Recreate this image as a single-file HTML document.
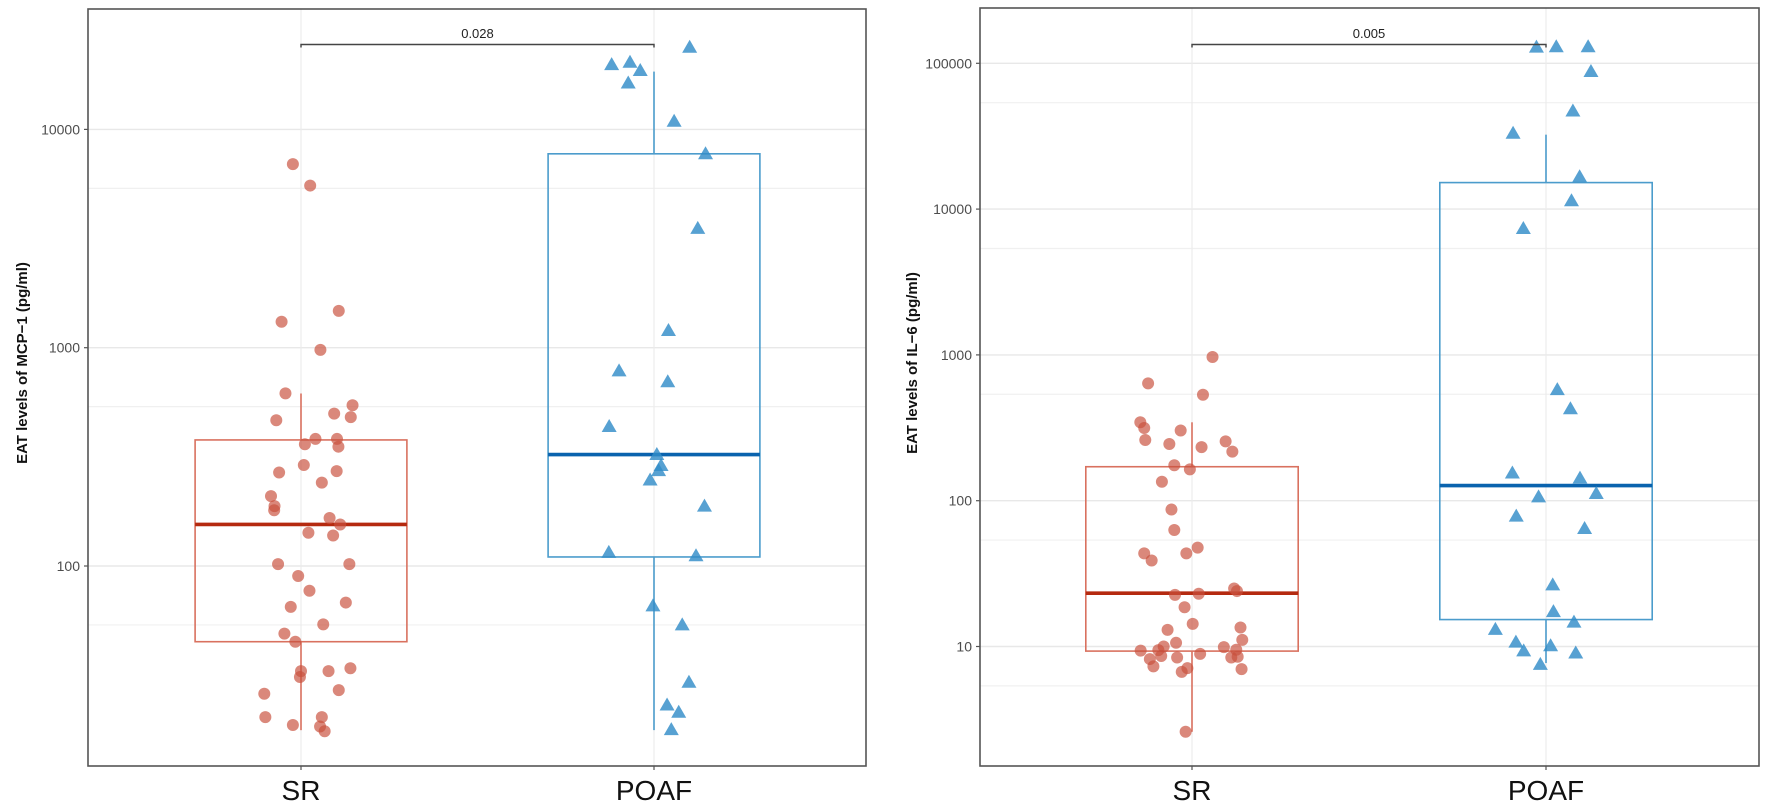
<!DOCTYPE html>
<html><head><meta charset="utf-8">
<style>
html,body{margin:0;padding:0;background:#fff;}
svg{display:block;font-family:"Liberation Sans",sans-serif;}
</style></head>
<body>
<svg id="chart" width="1772" height="812" viewBox="0 0 1772 812" xmlns="http://www.w3.org/2000/svg"></svg>
<script>
// ---- data: left panel (MCP-1) ----
const categories = ["SR", "POAF"];
const mcpSR = [6930,5530,1475,1315,977,618,545,499,481,465,382,382,361,352,290,268,272,241,209,188,180,166,155,142,138,102,102,90,77,65,68,54,49,45,33,31,33,34,27,26,20.3,20.3,18.7,18.4,17.5];
const mcpSRJit = [-0.023,0.026,0.107,-0.055,0.055,-0.044,0.146,0.094,0.141,-0.070,0.041,0.102,0.011,0.106,0.008,-0.062,0.101,0.059,-0.085,-0.075,-0.076,0.081,0.111,0.021,0.091,-0.065,0.137,-0.008,0.024,-0.029,0.127,0.063,-0.047,-0.016,0,-0.003,0.078,0.140,0.107,-0.104,-0.101,0.059,-0.023,0.054,0.067];
const mcpPOAF = [19900,20400,18700,16400,23900,10960,7780,3540,1205,787,702,438,326,290,275,249,189,116,112,66,54,29.5,23.2,21.5,17.9];
const mcpPOAFJit = [-0.120,-0.068,-0.039,-0.073,0.101,0.057,0.146,0.124,0.041,-0.099,0.039,-0.127,0.008,0.020,0.013,-0.011,0.143,-0.128,0.119,-0.003,0.080,0.099,0.037,0.070,0.049];
// box stats: [whiskerLow, q1, median, q3, whiskerHigh]
const mcpSRBox = [17.7,45,155,378,617];
const mcpPOAFBox = [17.7,110,324,7730,18400];
const mcpTicks = [100,1000,10000];
const mcpP = "0.028";
// ---- data: right panel (IL-6) ----
const il6SR = [968,638,533,345,315,303,261,245,255,233,217,175,164,135,87,63,43.5,47.7,38.9,43.5,25.0,24.0,22.6,23.0,18.6,14.3,13.0,13.5,11.1,9.37,9.45,10,10.6,9.9,9.5,8.9,8.2,8.6,8.4,8.4,8.5,7.3,7.1,6.7,7.0,2.6];
const il6SRJit = [0.058,-0.124,0.031,-0.146,-0.135,-0.032,-0.132,-0.064,0.095,0.027,0.114,-0.050,-0.006,-0.085,-0.058,-0.050,-0.135,0.016,-0.114,-0.016,0.119,0.127,-0.048,0.019,-0.021,0.002,-0.069,0.137,0.142,-0.145,-0.095,-0.080,-0.045,0.090,0.125,0.023,-0.119,-0.087,-0.042,0.111,0.129,-0.109,-0.013,-0.029,0.140,-0.018];
const il6POAF = [130000,131000,131000,88500,47500,33400,16800,11500,7420,583,431,156,144,113,107,79,65,26.7,17.5,14.8,13.2,10.8,9.4,10.2,9.1,7.6];
const il6POAFJit = [-0.027,0.029,0.119,0.127,0.076,-0.093,0.095,0.072,-0.064,0.032,0.069,-0.095,0.096,0.142,-0.021,-0.084,0.109,0.019,0.021,0.079,-0.143,-0.085,-0.063,0.013,0.084,-0.016];
const il6SRBox = [2.6,9.3,23.2,171,345];
const il6POAFBox = [7.7,15.3,127,15200,32400];
const il6Ticks = [10,100,1000,10000,100000];
const il6P = "0.005";

const NS = "http://www.w3.org/2000/svg";
const svg = document.getElementById("chart");
function mk(tag, attrs, parent){
  const e = document.createElementNS(NS, tag);
  for (const k in attrs) e.setAttribute(k, attrs[k]);
  (parent||svg).appendChild(e);
  return e;
}

function panel(cfg){
  const g = mk("g", {});
  
  
  const yS = v => cfg.y0 - (Math.log10(v) - cfg.l0) * cfg.dec;
  const xS = (i, j) => cfg.x0 + (i + (j||0)) * cfg.sp;
  const hw = 0.3 * cfg.sp;
  // gridlines
  for (let l = Math.floor(cfg.lmin); l <= cfg.lmax; l++) {
    const ym = yS(Math.pow(10, l + 0.73));
    if (ym > cfg.top && ym < cfg.bot) {
      const gl = mk("line", {x1:cfg.L, x2:cfg.R, y1:ym, y2:ym, stroke:"#f0f0f0", "stroke-width":1.2}, g);
      
      
    }
  }
  cfg.ticks.forEach(t => {
    const y = yS(t);
    const gl = mk("line", {x1:cfg.L, x2:cfg.R, y1:y, y2:y, stroke:"#e8e8e8", "stroke-width":1.4}, g);
    
    
    const tk = mk("line", {x1:cfg.L-4, x2:cfg.L, y1:y, y2:y, stroke:"#555", "stroke-width":1.2}, g);
    
    
    const tl = mk("text", {x:cfg.L-8, y:y+5, "text-anchor":"end", "font-size":14, fill:"#4d4d4d"}, g);
    tl.textContent = String(t);
    
    
  });
  categories.forEach((c, i) => {
    const x = xS(i);
    const vl = mk("line", {x1:x, x2:x, y1:cfg.top, y2:cfg.bot, stroke:"#ececec", "stroke-width":1.2}, g);
    
    
    const xl = mk("text", {x:x, y:800, "text-anchor":"middle", "font-size":28, fill:"#111"}, g);
    xl.textContent = c;
    
    
    const xt = mk("line", {x1:x, x2:x, y1:cfg.bot, y2:cfg.bot+4, stroke:"#555", "stroke-width":1.2}, g);
    
    
  });
  // boxes
  const boxes = [cfg.box0, cfg.box1];
  const bcol = ["#d9715f", "#4b9ccc"], mcol = ["#b52a10", "#0a63ae"];
  boxes.forEach((b, i) => {
    const x = xS(i);
    const w1 = mk("line", {x1:x, x2:x, y1:yS(b[0]), y2:yS(b[1]), stroke:bcol[i], "stroke-width":1.6}, g);
    
    
    const w2 = mk("line", {x1:x, x2:x, y1:yS(b[3]), y2:yS(b[4]), stroke:bcol[i], "stroke-width":1.6}, g);
    
    
    const r = mk("rect", {x:x-hw, y:yS(b[3]), width:2*hw, height:yS(b[1])-yS(b[3]), fill:"none", stroke:bcol[i], "stroke-width":1.6}, g);
    
    
    const m = mk("line", {x1:x-hw, x2:x+hw, y1:yS(b[2]), y2:yS(b[2]), stroke:mcol[i], "stroke-width":3.6}, g);
    
    
  });
  // points
  cfg.sr.forEach((v, k) => {
    const c = mk("circle", {cx:xS(0, cfg.srj[k]), cy:yS(v), r:6, fill:"rgba(200,80,60,0.68)"}, g);
    
    
  });
  cfg.po.forEach((v, k) => {
    const x = xS(1, cfg.poj[k]), y = yS(v);
    const p = mk("polygon", {points:`${x},${y-7} ${x-7.5},${y+6} ${x+7.5},${y+6}`, fill:"rgba(50,140,200,0.82)"}, g);
    
    
  });
  // frame
  const fr = mk("rect", {x:cfg.L, y:cfg.top, width:cfg.R-cfg.L, height:cfg.bot-cfg.top, fill:"none", stroke:"#555", "stroke-width":1.6}, g);
  
  
  // bracket
  const by = 44.5;
  const br = mk("path", {d:`M${xS(0)},${by+3} V${by} H${xS(1)} V${by+3}`, fill:"none", stroke:"#444", "stroke-width":1.4}, g);
  
  
  const pt = mk("text", {x:(xS(0)+xS(1))/2, y:38, "text-anchor":"middle", "font-size":13, fill:"#222"}, g);
  pt.textContent = cfg.p;
  
  
  // y title
  const yt = mk("text", {x:0, y:0, transform:`translate(${cfg.tx},363) rotate(-90)`, "text-anchor":"middle", "font-size":15, "font-weight":"bold", fill:"#111"}, g);
  yt.textContent = cfg.title;
  
  
}

panel({name:"mcp1-panel", L:88, R:866, top:9, bot:766, y0:566, l0:2, dec:218.3, lmin:1, lmax:4,
  x0:301, sp:353, ticks:mcpTicks, box0:mcpSRBox, box1:mcpPOAFBox, sr:mcpSR, srj:mcpSRJit, po:mcpPOAF, poj:mcpPOAFJit,
  p:mcpP, title:"EAT levels of MCP−1 (pg/ml)", tx:27});
panel({name:"il6-panel", L:980, R:1759, top:8, bot:766, y0:646.5, l0:1, dec:145.8, lmin:0, lmax:5,
  x0:1192, sp:354, ticks:il6Ticks, box0:il6SRBox, box1:il6POAFBox, sr:il6SR, srj:il6SRJit, po:il6POAF, poj:il6POAFJit,
  p:il6P, title:"EAT levels of IL−6 (pg/ml)", tx:917});
</script>
</body></html>
